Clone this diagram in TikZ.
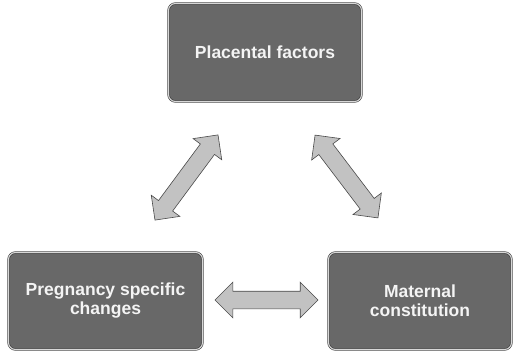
\documentclass[tikz,border=0pt]{standalone}
\usepackage{fontspec}
\setmainfont{Liberation Sans}
\usetikzlibrary{shapes.arrows}
\definecolor{boxfill}{HTML}{686868}
\definecolor{boxedge}{HTML}{3A3A3A}
\definecolor{boxhi}{HTML}{D8D8D8}
\definecolor{arrfill}{HTML}{C2C2C2}
\definecolor{arredge}{HTML}{4A4A4A}
\definecolor{boxtext}{HTML}{F4F4F4}
\tikzset{
  factorbox/.style={draw=boxedge, double=boxhi, double distance=1.1pt, line width=0.6pt,
    fill=boxfill, rounded corners=7pt, text=boxtext, font=\bfseries\fontsize{17.5}{19}\selectfont,
    align=center, inner sep=0pt},
  linkarrow/.style={double arrow, draw=arredge, line width=0.6pt, fill=arrfill,
    minimum width=35pt, inner sep=0pt, text height=17pt, text depth=0pt, text width=0pt,
    double arrow head extend=9pt, double arrow tip angle=90, shape border rotate=0}
}
\begin{document}
\begin{tikzpicture}[x=1pt,y=1pt]
\useasboundingbox (0,0) rectangle (513,351);
\node[factorbox, minimum width=193pt, minimum height=98pt] (pf) at (265,298.5) {Placental factors};
\node[factorbox, minimum width=194pt, minimum height=97pt] (ps) at (105.5,50) {Pregnancy specific\\changes};
\node[factorbox, minimum width=183pt, minimum height=97pt] (mc) at (420,50) {Maternal\\constitution};
\node[linkarrow, minimum height=103pt] (a1) at (266.5,51) {};
\node[linkarrow, minimum height=106pt, rotate=53.5] (a2) at (186.5,173.5) {};
\node[linkarrow, minimum height=104pt, rotate=-52.8] (a3) at (346.5,174.5) {};
\end{tikzpicture}
\end{document}
